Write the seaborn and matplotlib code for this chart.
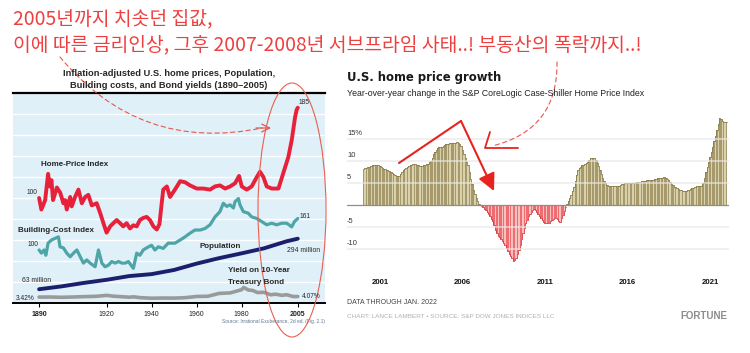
import numpy as np
import pandas as pd
import matplotlib.pyplot as plt
import matplotlib.transforms as mtransforms
from matplotlib.patches import Ellipse, FancyArrowPatch
from matplotlib.lines import Line2D
import seaborn as sns

W, H = 750, 353

# Left chart: Shiller, Irrational Exuberance fig 2.1
home_years = [1890, 1891, 1892.7, 1894, 1894.8, 1895.5, 1896.2, 1897.9, 1899.4, 1900.8,
              1901.6, 1902.3, 1903.8, 1904.5, 1906, 1907.5, 1909, 1910.5, 1911.9, 1913.4,
              1915.6, 1917.1, 1918.6, 1920, 1921.6, 1923, 1924.5, 1926, 1927.4, 1928.9,
              1930.4, 1931.9, 1933.4, 1934.8, 1936.3, 1937.8, 1939.3, 1940.8, 1942.3, 1943.5,
              1944.5, 1945.2, 1946.8, 1948.2, 1950.4, 1952.7, 1954.9, 1957.1, 1960.1, 1963,
              1966, 1968.2, 1970.4, 1972.7, 1974.9, 1977.1, 1978.9, 1980.1, 1982.3, 1984.5,
              1986.8, 1988.2, 1989.7, 1991.2, 1993.4, 1996.4, 1998.6, 2000.8, 2002.3, 2003.8,
              2004.5, 2005]
home_index = [100, 89, 98, 123, 111, 117, 98, 110, 105, 95,
              98, 89, 101, 92, 101, 108, 95, 101, 103, 93,
              95, 86, 76, 67, 73, 76, 79, 76, 73, 76,
              71, 74, 73, 79, 81, 82, 79, 73, 70, 75,
              95, 108, 111, 101, 108, 116, 115, 112, 109, 109,
              108, 111, 112, 109, 111, 114, 121, 111, 108, 111,
              120, 125, 120, 111, 109, 109, 124, 139, 155, 177,
              184, 186]

cost_years = [1890, 1891, 1892.2, 1893, 1894, 1895.5, 1897, 1898.6, 1899.3, 1900.8,
              1902.3, 1903.8, 1905.3, 1906.8, 1908.3, 1909.7, 1911.2, 1912.7, 1914.9, 1916.4,
              1917.9, 1919.3, 1920.8, 1922.3, 1923.8, 1925.3, 1926.8, 1928.3, 1929.7, 1931.9,
              1933.4, 1934.8, 1936.3, 1937.8, 1940, 1941.5, 1943, 1945.2, 1947.4, 1950.4,
              1952.7, 1954.9, 1957.1, 1959.3, 1961.6, 1963.8, 1966, 1968.2, 1970.4, 1971.9,
              1973.4, 1974.9, 1976.4, 1977.1, 1978.6, 1979.3, 1980.8, 1983, 1984.5, 1986.8,
              1989, 1991.2, 1993.4, 1995.6, 1997.9, 2000.1, 2002.3, 2003.5, 2005]
cost_index = [101, 95, 101, 91, 114, 120, 123, 126, 107, 105,
              95, 88, 95, 101, 88, 76, 82, 76, 69, 101,
              76, 69, 72, 79, 76, 79, 76, 76, 79, 66,
              95, 91, 101, 105, 110, 101, 107, 104, 114, 114,
              120, 126, 133, 139, 139, 142, 149, 164, 174, 190,
              184, 187, 181, 193, 199, 187, 174, 171, 164, 161,
              155, 149, 152, 149, 152, 152, 145, 155, 161]

pop_years = [1890, 1900, 1910, 1920, 1930, 1940, 1950, 1960, 1970, 1980, 1990, 2000, 2005]
pop_millions = [63, 76, 92, 106, 123, 132, 151, 180, 205, 227, 250, 282, 294]

bond_years = [1890, 1895, 1900, 1905, 1910, 1915, 1918, 1920, 1923, 1925, 1930, 1932,
              1935, 1940, 1945, 1950, 1955, 1960, 1965, 1970, 1975, 1980, 1981, 1983,
              1985, 1987, 1990, 1993, 1995, 1998, 2000, 2002, 2003, 2005]
bond_yield = [3.42, 3.5, 3.2, 3.5, 3.9, 4.2, 4.8, 5.3, 4.4, 4.1, 3.3, 3.7,
              2.8, 2.2, 2.4, 2.3, 2.8, 4.1, 4.3, 7.4, 8.0, 11.4, 13.9, 11.1,
              10.6, 8.4, 8.6, 5.9, 6.6, 5.3, 6.0, 4.6, 4.0, 4.07]

left_ticks = [1890, 1920, 1940, 1960, 1980, 2005]

# Right chart: S&P CoreLogic Case-Shiller, YoY %, monthly Jan 2000 - Jan 2022
yoy_pct = [
    8.2, 8.4, 8.5, 8.6, 8.7, 8.8, 8.9, 9.0, 9.1, 9.2, 9.2, 9.0,                 # 2000
    8.8, 8.6, 8.5, 8.3, 8.1, 7.9, 7.8, 7.7, 7.5, 7.3, 7.0, 6.8,                 # 2001
    6.6, 6.6, 6.7, 7.0, 7.4, 7.9, 8.2, 8.4, 8.6, 8.8, 9.0, 9.2,                 # 2002
    9.4, 9.4, 9.3, 9.2, 9.0, 8.8, 8.8, 8.9, 9.0, 9.1, 9.3, 9.4,                 # 2003
    9.8, 10.1, 10.8, 11.5, 12.0, 12.6, 13.0, 13.1, 13.2, 13.3, 13.5, 13.7,      # 2004
    13.9, 14.0, 14.0, 14.1, 14.1, 14.1, 14.2, 14.2, 14.3, 14.1, 13.8, 13.5,     # 2005
    12.5, 11.6, 10.8, 9.9, 9.0, 7.5, 6.0, 4.7, 3.4, 2.4, 1.5, 0.8,              # 2006
    0.3, 0.1, -0.2, -0.5, -0.9, -1.2, -1.6, -2.0, -2.5, -3.1, -3.7, -4.6,       # 2007
    -5.6, -6.3, -7.1, -7.4, -7.7, -8.2, -8.7, -9.2, -9.8, -10.5, -11.1, -11.7,  # 2008
    -12.2, -12.8, -12.6, -12.0, -11.2, -10.2, -9.2, -7.8, -6.4, -5.2, -4.2, -3.4,  # 2009
    -2.6, -2.0, -1.5, -1.1, -1.0, -1.1, -1.5, -2.1, -2.6, -3.0, -3.5, -3.8,     # 2010
    -4.0, -4.1, -4.1, -4.0, -3.7, -3.4, -3.1, -3.0, -3.0, -3.2, -3.6, -3.9,     # 2011
    -3.0, -2.2, -1.3, -0.4, 0.2, 0.8, 1.5, 2.3, 3.2, 4.2, 5.5, 6.8,             # 2012
    8.0, 8.4, 8.7, 9.0, 9.2, 9.4, 9.6, 9.8, 10.2, 10.6, 10.8, 10.8,             # 2013
    10.6, 10.3, 9.6, 8.8, 8.0, 7.0, 6.2, 5.5, 4.9, 4.6, 4.4, 4.3,               # 2014
    4.3, 4.3, 4.3, 4.3, 4.3, 4.3, 4.4, 4.5, 4.7, 4.8, 4.9, 5.0,                 # 2015
    5.1, 5.1, 5.0, 4.9, 4.9, 5.0, 5.1, 5.2, 5.3, 5.3, 5.4, 5.5,                 # 2016
    5.5, 5.5, 5.6, 5.6, 5.7, 5.7, 5.7, 5.8, 5.9, 6.0, 6.1, 6.1,                 # 2017
    6.1, 6.2, 6.3, 6.3, 6.2, 6.0, 5.7, 5.2, 4.8, 4.5, 4.2, 4.0,                 # 2018
    3.8, 3.6, 3.4, 3.3, 3.2, 3.2, 3.2, 3.2, 3.3, 3.5, 3.7, 3.8,                 # 2019
    3.9, 4.1, 4.3, 4.3, 4.3, 4.3, 4.4, 4.9, 6.2, 7.6, 8.6, 9.9,                 # 2020
    11.0, 12.0, 13.3, 14.5, 15.8, 17.0, 18.5, 19.9, 19.6, 19.1, 18.8, 18.8,     # 2021
    18.9,                                                                        # 2022
]
right_ticks = [2001, 2006, 2011, 2016, 2021]
grid_levels = [-10, -5, 5, 10, 15]
grid_labels = ['-10', '-5', '5', '10', '15%']

sns.set_theme(style='white')
plt.rcParams['font.family'] = ['DejaVu Sans']
NARROW = ['Liberation Sans', 'DejaVu Sans']
KOREAN = ['Noto Sans CJK KR', 'DejaVu Sans']

fig = plt.figure(figsize=(W / 100, H / 100), dpi=100, facecolor='white')
# image-pixel coordinates (origin top-left) for annotations
px = mtransforms.Affine2D().scale(1 / W, -1 / H).translate(0, 1) + fig.transFigure


def rect(x0, y0, x1, y1):
    return [x0 / W, 1 - y1 / H, (x1 - x0) / W, (y1 - y0) / H]


def label(x, y, s, **kw):
    kw.setdefault('va', 'center')
    kw.setdefault('family', NARROW)
    fig.text(x, y, s, transform=px, **kw)


# ---------------- left panel ----------------
axL = fig.add_axes(rect(13, 93, 325, 303))
axL.set_facecolor('#dff0f8')
sns.lineplot(x=home_years, y=home_index, ax=axL, color='#e8213b', lw=2.8, zorder=5)
axL.set_ylim(0, 200)
axL.set_yticks(np.arange(0, 201, 20))
axL.tick_params(axis='y', length=0, labelleft=False)
axL.grid(axis='y', color='white', lw=1)
axL.set_axisbelow(True)
for side in ['left', 'right']:
    axL.spines[side].set_visible(False)
axL.spines['top'].set_color('black')
axL.spines['top'].set_linewidth(1.6)
axL.spines['bottom'].set_color('black')
axL.spines['bottom'].set_linewidth(1.4)


def overlay(lo, hi):
    a = axL.twinx()
    a.set_ylim(lo, hi)
    a.set_yticks([])
    for s in a.spines.values():
        s.set_visible(False)
    return a


axC = overlay(0, 400)
sns.lineplot(x=cost_years, y=cost_index, ax=axC, color='#4ea5a7', lw=2.3)
axC.set_ylim(0, 400)
axP = overlay(0, 960)
sns.lineplot(x=pop_years, y=pop_millions, ax=axP, color='#1b1f6e', lw=2.8)
axP.set_ylim(0, 960)
axB = overlay(-3, 225)
sns.lineplot(x=bond_years, y=bond_yield, ax=axB, color='#9a9a9a', lw=2.6)
axB.set_ylim(-3, 225)
for a in [axL, axC, axP, axB]:
    a.set_xlabel('')
    a.set_ylabel('')

axL.set_xlim(1878.4, 2017.1)
axL.set_xticks(left_ticks)
axL.set_xticklabels([str(y) for y in left_ticks], fontsize=5.0, family=NARROW)
axL.tick_params(axis='x', bottom=True, length=3, width=0.8, color='black', pad=2.5,
                direction='out', labelcolor='#222222')
for i in [0, len(left_ticks) - 1]:
    axL.get_xticklabels()[i].set_fontweight('bold')

label(169, 73, 'Inflation-adjusted U.S. home prices, Population,', ha='center',
      fontsize=6.7, fontweight='bold')
label(169, 86, 'Building costs, and Bond yields (1890\u20132005)', ha='center',
      fontsize=6.7, fontweight='bold')
label(41, 165, 'Home-Price Index', fontsize=5.8, fontweight='bold')
label(37, 192, '100', ha='right', fontsize=4.8)
label(299, 103, '185', fontsize=4.8)
label(18, 230, 'Building-Cost Index', fontsize=5.8, fontweight='bold')
label(38, 245, '100', ha='right', fontsize=4.8)
label(300, 216, '161', fontsize=4.8)
label(200, 247, 'Population', fontsize=5.8, fontweight='bold')
label(287, 250, '294 million', fontsize=4.9)
label(22, 281, '63 million', fontsize=4.9)
label(228, 271, 'Yield on 10-Year', fontsize=5.8, fontweight='bold')
label(228, 282, 'Treasury Bond', fontsize=5.8, fontweight='bold')
label(16, 298, '3.42%', fontsize=4.8)
label(302, 297, '4.07%', fontsize=4.8)
label(325, 321, 'Source: Irrational Exuberance, 2d ed. (Fig. 2.1)', ha='right',
      fontsize=3.5, color='#5f7890')

# ---------------- right panel ----------------
axR = fig.add_axes(rect(347, 115, 729, 262))
dates = pd.date_range('2000-01-01', periods=len(yoy_pct), freq='MS')
t = np.asarray(dates.year + (dates.month - 1) / 12.0)
v = np.asarray(yoy_pct)
tone = np.where(v >= 0, 'up', 'down')
stripe = np.isin(np.arange(len(v)) % 5, [1, 3])
tone = np.where(stripe, np.char.add(tone, '_l'), tone)
pal = {'up': '#a6996b', 'up_l': '#d9d0ac', 'down': '#ee6d70', 'down_l': '#f8c1c0'}

sns.barplot(x=t, y=v, hue=tone, palette=pal, native_scale=True, dodge=False,
            width=0.95, errorbar=None, legend=False, linewidth=0, saturation=1,
            ax=axR, zorder=1)
for g in grid_levels:
    axR.axhline(g, color='#e8e8e8', lw=1.1, alpha=0.8, zorder=2.5)
axR.plot(t, np.where(v > 0, v, np.nan), drawstyle='steps-mid', color='#8a7d4b', lw=0.6, zorder=2)
axR.plot(t, np.where(v < 0, v, np.nan), drawstyle='steps-mid', color='#d8373c', lw=0.6, zorder=2)
axR.axhline(0, color='#8d8d8d', lw=0.9, zorder=3)

axR.set_xlim(1999.0, 2022.15)
axR.set_ylim(-13, 20.5)
axR.set_yticks([])
axR.set_xticks(right_ticks)
axR.set_xticklabels([str(y) for y in right_ticks], fontsize=5.6, fontweight='bold',
                    family=['Liberation Sans', 'DejaVu Sans'], color='#111111')
axR.tick_params(axis='x', length=0, pad=12)
axR.set_xlabel('')
axR.set_ylabel('')
for s in axR.spines.values():
    s.set_visible(False)
ylab_tr = mtransforms.blended_transform_factory(axR.transAxes, axR.transData)
for g, lab in zip(grid_levels, grid_labels):
    axR.text(0, g + 0.4, lab, transform=ylab_tr, ha='left', va='bottom', fontsize=5.4,
             family=['Liberation Sans', 'DejaVu Sans'], color='#333333')

fig.text(347, 77, 'U.S. home price growth', transform=px, va='center', fontsize=8.4,
         fontweight='bold', color='#1a1a1a')
fig.text(347, 93, 'Year-over-year change in the S&P CoreLogic Case-Shiller Home Price Index',
         transform=px, va='center', fontsize=6.3, family=['Liberation Sans', 'DejaVu Sans'],
         color='#222222')
label(347, 303, 'DATA THROUGH JAN. 2022', fontsize=5.0, color='#444444')
label(347, 317, 'CHART: LANCE LAMBERT \u2022 SOURCE: S&P DOW JONES INDICES LLC', fontsize=4.6,
      color='#b0b0b0')
label(727, 316, 'FORTUNE', ha='right', fontsize=7.0, fontweight='bold', color='#8c8c8c')

# ---------------- Korean headline & annotations ----------------
red = '#ee4040'
fig.text(13, 19, '2005년까지 치솟던 집값,', transform=px, va='center', fontsize=13.9,
         family=KOREAN, color=red)
fig.text(13, 45, '이에 따른 금리인상, 그후 2007-2008년 서브프라임 사태..! 부동산의 폭락까지..!',
         transform=px, va='center', fontsize=13.9, family=KOREAN, color=red)

dash = '#e5574c'
fig.add_artist(FancyArrowPatch((60, 57), (262, 128), transform=px, connectionstyle='arc3,rad=0.3',
                               arrowstyle='-', ls=(0, (4, 3)), color=dash, lw=0.8,
                               shrinkA=0, shrinkB=0))
fig.add_artist(FancyArrowPatch((256, 128), (271, 128), transform=px, arrowstyle='->',
                               mutation_scale=14, color=dash, lw=0.9, shrinkA=0, shrinkB=0))
fig.add_artist(FancyArrowPatch((557, 62), (492, 146), transform=px, connectionstyle='arc3,rad=-0.4',
                               arrowstyle='-', ls=(0, (4, 3)), color=dash, lw=0.8,
                               shrinkA=0, shrinkB=0))
fig.add_artist(Ellipse((292, 210), 68, 254, transform=px, fill=False, ec='#e8604f', lw=0.8))

solid = '#e8231f'
fig.add_artist(Line2D([490, 485, 518], [132, 148, 148], transform=px, color=solid, lw=1.3))
fig.add_artist(Line2D([399, 461], [163, 121], transform=px, color=solid, lw=1.5))
fig.add_artist(FancyArrowPatch((461, 121), (494, 191), transform=px, arrowstyle='-|>',
                               mutation_scale=26, color=solid, lw=1.5, shrinkA=0, shrinkB=0))

fig.savefig('out.png', dpi=100, facecolor='white')
